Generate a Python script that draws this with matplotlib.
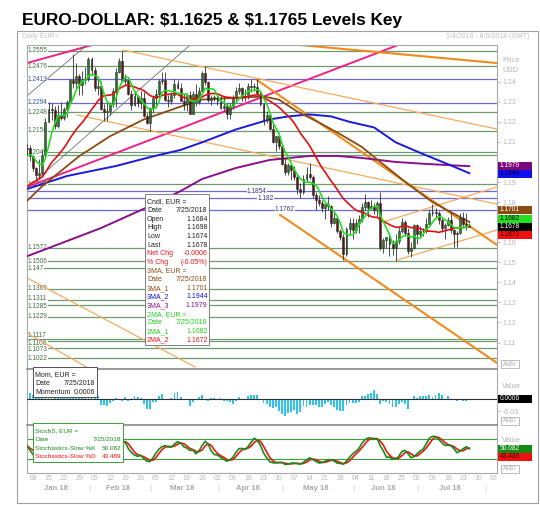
import numpy as np
import pandas as pd
import matplotlib
matplotlib.use("Agg")
import matplotlib.pyplot as plt
from matplotlib.patches import Rectangle
from matplotlib.transforms import blended_transform_factory

plt.rcParams['font.family'] = ['Liberation Sans', 'DejaVu Sans']

W, H = 540, 505

# Daily EUR= candles, one entry per trading day, 4 Jan 2018 - 25 Jul 2018
opens = [1.2065, 1.2068, 1.2030, 1.1968, 1.1937, 1.1947, 1.2035, 1.2201, 1.2265, 1.2260,
         1.2180, 1.2236, 1.2221, 1.2262, 1.2300, 1.2408, 1.2395, 1.2426, 1.2383, 1.2407,
         1.2414, 1.2512, 1.2458, 1.2368, 1.2378, 1.2264, 1.2251, 1.2253, 1.2290, 1.2353,
         1.2450, 1.2505, 1.2405, 1.2408, 1.2338, 1.2285, 1.2330, 1.2294, 1.2318, 1.2230,
         1.2193, 1.2267, 1.2318, 1.2338, 1.2406, 1.2410, 1.2310, 1.2306, 1.2335, 1.2390,
         1.2370, 1.2305, 1.2290, 1.2335, 1.2240, 1.2340, 1.2300, 1.2355, 1.2445, 1.2400,
         1.2310, 1.2320, 1.2323, 1.2302, 1.2270, 1.2280, 1.2240, 1.2280, 1.2320, 1.2355,
         1.2370, 1.2325, 1.2330, 1.2380, 1.2375, 1.2375, 1.2345, 1.2290, 1.2210, 1.2235,
         1.2165, 1.2100, 1.2130, 1.2080, 1.1990, 1.1950, 1.1985, 1.1960, 1.1925, 1.1865,
         1.1850, 1.1915, 1.1940, 1.1925, 1.1835, 1.1810, 1.1795, 1.1770, 1.1790, 1.1780,
         1.1695, 1.1720, 1.1655, 1.1625, 1.1540, 1.1665, 1.1695, 1.1660, 1.1695, 1.1715,
         1.1775, 1.1800, 1.1770, 1.1780, 1.1760, 1.1795, 1.1570, 1.1610, 1.1625, 1.1590,
         1.1570, 1.1605, 1.1655, 1.1700, 1.1645, 1.1555, 1.1570, 1.1685, 1.1640, 1.1655,
         1.1655, 1.1690, 1.1745, 1.1750, 1.1745, 1.1710, 1.1670, 1.1685, 1.1710, 1.1660,
         1.1640, 1.1645, 1.1720, 1.1690, 1.1684]
highs = [1.2089, 1.2083, 1.2036, 1.1977, 1.2014, 1.2058, 1.2218, 1.2297, 1.2296, 1.2278,
         1.2286, 1.2297, 1.2272, 1.2309, 1.2413, 1.2537, 1.2494, 1.2440, 1.2452, 1.2472,
         1.2524, 1.2523, 1.2475, 1.2420, 1.2406, 1.2288, 1.2296, 1.2300, 1.2371, 1.2468,
         1.2516, 1.2555, 1.2439, 1.2412, 1.2358, 1.2353, 1.2336, 1.2356, 1.2347, 1.2242,
         1.2273, 1.2335, 1.2365, 1.2412, 1.2446, 1.2447, 1.2334, 1.2348, 1.2413, 1.2408,
         1.2394, 1.2337, 1.2344, 1.2355, 1.2355, 1.2388, 1.2375, 1.2455, 1.2476, 1.2405,
         1.2336, 1.2334, 1.2345, 1.2334, 1.2325, 1.2292, 1.2294, 1.2336, 1.2375, 1.2396,
         1.2374, 1.2362, 1.2395, 1.2414, 1.2396, 1.2413, 1.2352, 1.2295, 1.2253, 1.2246,
         1.2190, 1.2130, 1.2140, 1.2095, 1.2020, 1.1995, 1.1995, 1.1978, 1.1938, 1.1895,
         1.1935, 1.1974, 1.1996, 1.1933, 1.1848, 1.1835, 1.1810, 1.1790, 1.1832, 1.1785,
         1.1750, 1.1726, 1.1665, 1.1640, 1.1676, 1.1723, 1.1720, 1.1718, 1.1736, 1.1796,
         1.1840, 1.1805, 1.1810, 1.1796, 1.1805, 1.1852, 1.1623, 1.1625, 1.1645, 1.1610,
         1.1640, 1.1675, 1.1720, 1.1712, 1.1670, 1.1600, 1.1690, 1.1690, 1.1680, 1.1670,
         1.1720, 1.1764, 1.1791, 1.1770, 1.1757, 1.1720, 1.1695, 1.1725, 1.1744, 1.1666,
         1.1658, 1.1746, 1.1750, 1.1746, 1.1698]
lows = [1.2037, 1.2004, 1.1955, 1.1916, 1.1915, 1.1935, 1.2027, 1.2197, 1.2209, 1.2165,
        1.2171, 1.2207, 1.2210, 1.2225, 1.2296, 1.2368, 1.2361, 1.2335, 1.2336, 1.2388,
        1.2405, 1.2435, 1.2355, 1.2335, 1.2260, 1.2206, 1.2206, 1.2235, 1.2275, 1.2273,
        1.2442, 1.2404, 1.2385, 1.2334, 1.2260, 1.2277, 1.2272, 1.2264, 1.2224, 1.2188,
        1.2155, 1.2246, 1.2273, 1.2322, 1.2388, 1.2306, 1.2273, 1.2287, 1.2319, 1.2363,
        1.2302, 1.2258, 1.2256, 1.2239, 1.2239, 1.2278, 1.2290, 1.2353, 1.2384, 1.2300,
        1.2285, 1.2303, 1.2285, 1.2263, 1.2254, 1.2216, 1.2215, 1.2263, 1.2300, 1.2340,
        1.2303, 1.2306, 1.2315, 1.2348, 1.2355, 1.2335, 1.2277, 1.2183, 1.2196, 1.2160,
        1.2095, 1.2055, 1.2067, 1.1985, 1.1937, 1.1937, 1.1910, 1.1910, 1.1838, 1.1822,
        1.1840, 1.1900, 1.1917, 1.1822, 1.1763, 1.1780, 1.1750, 1.1717, 1.1761, 1.1676,
        1.1690, 1.1645, 1.1610, 1.1510, 1.1530, 1.1640, 1.1618, 1.1645, 1.1645, 1.1702,
        1.1760, 1.1725, 1.1765, 1.1740, 1.1725, 1.1560, 1.1545, 1.1570, 1.1532, 1.1535,
        1.1508, 1.1592, 1.1645, 1.1630, 1.1540, 1.1527, 1.1565, 1.1590, 1.1620, 1.1630,
        1.1645, 1.1690, 1.1730, 1.1720, 1.1690, 1.1650, 1.1615, 1.1680, 1.1646, 1.1575,
        1.1575, 1.1640, 1.1683, 1.1660, 1.1674]
closes = [1.2068, 1.2030, 1.1968, 1.1937, 1.1947, 1.2035, 1.2201, 1.2265, 1.2260, 1.2180,
          1.2236, 1.2221, 1.2262, 1.2300, 1.2408, 1.2395, 1.2426, 1.2383, 1.2407, 1.2414,
          1.2512, 1.2458, 1.2368, 1.2378, 1.2264, 1.2251, 1.2253, 1.2290, 1.2353, 1.2450,
          1.2505, 1.2405, 1.2408, 1.2338, 1.2285, 1.2330, 1.2294, 1.2318, 1.2230, 1.2193,
          1.2267, 1.2318, 1.2338, 1.2406, 1.2410, 1.2310, 1.2306, 1.2335, 1.2390, 1.2370,
          1.2305, 1.2290, 1.2335, 1.2240, 1.2340, 1.2300, 1.2355, 1.2445, 1.2400, 1.2310,
          1.2320, 1.2323, 1.2302, 1.2270, 1.2280, 1.2240, 1.2280, 1.2320, 1.2355, 1.2370,
          1.2325, 1.2330, 1.2380, 1.2375, 1.2375, 1.2345, 1.2290, 1.2210, 1.2235, 1.2165,
          1.2100, 1.2130, 1.2080, 1.1990, 1.1950, 1.1985, 1.1960, 1.1925, 1.1865, 1.1850,
          1.1915, 1.1940, 1.1925, 1.1835, 1.1810, 1.1795, 1.1770, 1.1790, 1.1780, 1.1695,
          1.1720, 1.1655, 1.1625, 1.1540, 1.1665, 1.1695, 1.1660, 1.1695, 1.1715, 1.1775,
          1.1800, 1.1770, 1.1780, 1.1760, 1.1795, 1.1570, 1.1610, 1.1625, 1.1590, 1.1570,
          1.1605, 1.1655, 1.1700, 1.1645, 1.1555, 1.1570, 1.1685, 1.1640, 1.1655, 1.1655,
          1.1690, 1.1745, 1.1750, 1.1745, 1.1710, 1.1670, 1.1685, 1.1710, 1.1660, 1.1640,
          1.1645, 1.1720, 1.1690, 1.1684, 1.1678]
# closes before the chart starts (5 Dec 2017 - 3 Jan 2018), for the indicators
prior_closes = [1.1825, 1.1795, 1.1770, 1.1775, 1.1810, 1.1745, 1.1825, 1.1775, 1.1750, 1.1780,
                1.1840, 1.1875, 1.1870, 1.1860, 1.1860, 1.1890, 1.1945, 1.2005, 1.2010, 1.2060,
                1.2015]

# slow moving averages as (day index, value) knots
ma1_days = [0, 5, 17, 27, 38, 50, 57, 68, 77, 82, 88, 95, 102, 109, 115, 124, 132, 138, 144]
ma1_vals = [1.1806, 1.1880, 1.2029, 1.2128, 1.2212, 1.2276, 1.2311, 1.2320, 1.2326, 1.2311,
            1.2251, 1.2197, 1.2138, 1.2075, 1.2000, 1.1890, 1.1800, 1.1750, 1.1701]
ma2_days = [0, 13, 29, 40, 50, 57, 68, 79, 85, 92, 99, 105, 113, 120, 129, 137, 144]
ma2_vals = [1.1865, 1.1930, 1.1980, 1.2024, 1.2060, 1.2098, 1.2162, 1.2212, 1.2227, 1.2237,
            1.2227, 1.2200, 1.2172, 1.2098, 1.2039, 1.1989, 1.1944]
ma3_days = [0, 24, 40, 50, 57, 68, 79, 92, 101, 109, 120, 130, 144]
ma3_vals = [1.1530, 1.1670, 1.1780, 1.1855, 1.1915, 1.1970, 1.2010, 1.2030, 1.2030, 1.2020,
            1.2000, 1.1990, 1.1979]

# horizontal levels
green_levels = [1.2555, 1.2476, 1.2248, 1.2156, 1.2049, 1.2034, 1.1889, 1.1572, 1.1506, 1.147,
                1.1369, 1.1311, 1.1285, 1.1229, 1.1117, 1.1106, 1.1073, 1.1022]
blue_levels = [1.2413, 1.2294, 1.1854, 1.182, 1.1762]
left_labels = ['1.2555', '1.2476', '1.2413', '1.2294', '1.2248', '1.2156', '1.2049', '1.1889',
               '1.1572', '1.1506', '1.147', '1.1369', '1.1311', '1.1285', '1.1229', '1.1117',
               '1.1106', '1.1073', '1.1022']
mid_labels = ['1.1854', '1.182', '1.1762']

# trend lines: ((start day, end day), (start price, end price))
pink_lines = [((0, 120.8), (1.1875, 1.2583)), ((0, 21.2), (1.2493, 1.2583))]
gray_lines = [((0, 53.1), (1.1870, 1.2583)), ((0, 19.5), (1.2329, 1.2583))]
orange_thin = [((31.25, 153), (1.2558, 1.2164)), ((16.3, 153), (1.2234, 1.1790)),
               ((0, 54.7), (1.1422, 1.0978)), ((0, 20.5), (1.1147, 1.0968)),
               ((120.4, 153), (1.1511, 1.1661)), ((115.9, 153), (1.1701, 1.1875))]
orange_thick = [((88.9, 153), (1.2583, 1.2493)), ((74.9, 153), (1.2408, 1.1586)),
                ((82.4, 153), (1.1736, 1.0998))]

dates = pd.bdate_range('2018-01-04', '2018-08-06')

# ---------------------------------------------------------------------------
o = np.array(opens); h = np.array(highs); l = np.array(lows); c = np.array(closes)
n = len(c)
x = np.arange(n)

all_close = pd.Series(prior_closes + closes)
k = len(prior_closes)
ma_fast = all_close.rolling(5).mean().values[k:]
ma_slow = all_close.rolling(20).mean().values[k:]
momentum = all_close.diff(10).values[k:]

hh = pd.Series(highs).rolling(14, min_periods=1).max()
ll = pd.Series(lows).rolling(14, min_periods=1).min()
fast_k = 100 * (pd.Series(closes) - ll) / (hh - ll)
slow_k = fast_k.rolling(3, min_periods=1).mean()
slow_d = slow_k.rolling(3, min_periods=1).mean()

PX = 2006.0   # pixels per price unit in the price panel


def fx(px):
    return px / W


def fy(py):
    return 1 - py / H


fig = plt.figure(figsize=(W / 100, H / 100), dpi=100)
fig.patch.set_facecolor('white')

ax = fig.add_axes([fx(27), fy(369), 470 / W, 324 / H])
axm = fig.add_axes([fx(27), fy(425), 470 / W, 56 / H])
axs = fig.add_axes([fx(27), fy(473), 470 / W, 48 / H])

for a in (ax, axm, axs):
    a.set_xlim(0, 153)
    a.set_xticks([])
    a.yaxis.tick_right()
    a.tick_params(axis='y', colors='#b4b4b4', labelsize=5, length=2, width=0.6, pad=2)
    for s in a.spines.values():
        s.set_color('#a8a8a8')
        s.set_linewidth(0.8)
axm.spines['top'].set_color('#808080')
axs.spines['top'].set_color('#808080')
axm.spines['top'].set_linewidth(1.1)
axs.spines['top'].set_linewidth(1.1)

# ---- price panel -----------------------------------------------------------
ax.set_ylim(1.0968, 1.2583)
ticks = [round(t, 2) for t in np.arange(1.11, 1.245, 0.01)]
ax.set_yticks(ticks)
# 1.20 and 1.17 sit under the value boxes, so their labels stay empty
ax.set_yticklabels(['' if t in (1.20, 1.17) else '%.2f' % t for t in ticks])

for lev in green_levels:
    ax.axhline(lev, color='#6f9a6f', lw=0.9, zorder=1)
for lev in blue_levels:
    ax.axhline(lev, color='#6a6ad0', lw=0.9, zorder=1)

# crowded labels are pushed a little apart (pixels, + = down)
nudge = {'1.1311': -1.5, '1.1285': 1.5, '1.1117': -4.0, '1.1106': 2.0, '1.1073': 1.5}
for lab in left_labels:
    col = '#3050a0' if float(lab) in blue_levels else '#3f6f3f'
    yl = float(lab) - nudge.get(lab, 0) / PX
    ax.text(0.3, yl, lab, fontsize=4.7, color=col, va='center', ha='left', zorder=1.5,
            bbox=dict(facecolor='white', edgecolor='none', pad=0.2))
for lab, xpos in zip(mid_labels, [71.6, 74.9, 80.7]):
    ax.text(xpos, float(lab), lab, fontsize=4.7, color='#30307a', va='center', ha='left',
            zorder=1.5, bbox=dict(facecolor='white', edgecolor='none', pad=0.2))

for (xs, ys) in pink_lines:
    ax.plot(xs, ys, color='#ee2288', lw=1.4, zorder=2)
for (xs, ys) in gray_lines:
    ax.plot(xs, ys, color='#707070', lw=0.6, zorder=2)
for (xs, ys) in orange_thin:
    ax.plot(xs, ys, color='#f6aa5e', lw=0.9, zorder=2)
for (xs, ys) in orange_thick:
    ax.plot(xs, ys, color='#f08a1c', lw=1.5, zorder=2)

ax.plot(ma3_days, ma3_vals, color='#8a108a', lw=1.4, zorder=3)
ax.plot(ma2_days, ma2_vals, color='#1a1ae0', lw=1.4, zorder=3)
ax.plot(ma1_days, ma1_vals, color='#8a4a12', lw=1.3, zorder=3)

up = c >= o
ax.vlines(x, l, h, color='#303030', lw=0.6, zorder=4)
body_lo = np.minimum(o, c)
body_h = np.maximum(np.abs(c - o), 0.00025)
ax.bar(x[up], body_h[up], bottom=body_lo[up], width=0.62, color='#2a7a2a',
       edgecolor='#303030', linewidth=0.4, zorder=4)
ax.bar(x[~up], body_h[~up], bottom=body_lo[~up], width=0.62, color='#5a1414',
       edgecolor='#303030', linewidth=0.4, zorder=4)

ax.plot(x, ma_slow, color='#e01010', lw=1.2, zorder=5)
ax.plot(x, ma_fast, color='#20e020', lw=1.2, zorder=5)

# ---- momentum panel --------------------------------------------------------
axm.set_ylim(-0.065, 0.075)
axm.bar(x, momentum, width=0.6, color='#2ec4f0', zorder=2)
axm.axhline(0, color='#303030', lw=0.8, zorder=3)
axm.set_yticks([-0.03])
axm.set_yticklabels(['-0.03'])

# ---- stochastics panel -----------------------------------------------------
axs.set_ylim(-22, 122)
axs.axhline(80, color='#3aa03a', lw=0.8)
axs.axhline(20, color='#3aa03a', lw=0.8)
axs.plot(x, slow_d, color='#e81515', lw=1.2, zorder=3)
axs.plot(x, slow_k, color='#1a8a1a', lw=1.2, zorder=3)
axs.set_yticks([])

# ---- date axis -------------------------------------------------------------
tr = blended_transform_factory(axs.transData, fig.transFigure)
for i, d in enumerate(dates):
    if d.weekday() == 0:
        axs.text(i, fy(479), d.strftime('%d'), transform=tr, fontsize=5, color='#b8b8b8',
                 ha='center', va='center', clip_on=False)
months = pd.Series(np.arange(len(dates)), index=dates)
for m, grp in months.groupby(dates.to_period('M')):
    first = grp.iloc[0]
    if first > 0:
        axs.text(first + 0.2, fy(488), '|', transform=tr, fontsize=6, color='#c0c0c0',
                 ha='center', va='center', clip_on=False)
    if m.month <= 7:
        axs.text(grp.mean(), fy(488), m.strftime('%b %y'), transform=tr, fontsize=5.5,
                 color='#a8a8a8', fontweight='bold', ha='center', va='center', clip_on=False)

# ---- frame and headings ----------------------------------------------------
fig.add_artist(Rectangle((fx(17), fy(503)), (538 - 17) / W, (503 - 31) / H,
                         transform=fig.transFigure, fill=False, edgecolor='#a0a0a0', lw=0.8))
fig.text(fx(22), fy(25.5), 'EURO-DOLLAR: \\$1.1625 & \\$1.1765 Levels Key', fontsize=12.4,
         fontweight='bold', va='baseline', ha='left', color='black')
fig.text(fx(22), fy(37), 'Daily EUR=', fontsize=5, color='#c0c0c0', va='center')
fig.text(fx(530), fy(37), '1/4/2018 - 8/6/2018 (GMT)', fontsize=5, color='#c0c0c0',
         va='center', ha='right')
fig.text(fx(502), fy(61), 'Price', fontsize=5.5, color='#b4b4b4', va='center')
fig.text(fx(502), fy(71), 'USD', fontsize=5.5, color='#b4b4b4', va='center')
fig.text(fx(502), fy(386), 'Value', fontsize=5.5, color='#b4b4b4', va='center')
fig.text(fx(502), fy(441), 'Value', fontsize=5.5, color='#b4b4b4', va='center')


def value_box(y, s, bg, fg):
    fig.add_artist(Rectangle((fx(498), fy(y + 4)), 34 / W, 8 / H, transform=fig.transFigure,
                             facecolor=bg, edgecolor='none', zorder=4))
    fig.text(fx(499.5), fy(y), s, fontsize=4.8, color=fg, va='center', ha='left', zorder=5)


def auto_box(y):
    fig.add_artist(Rectangle((fx(501), fy(y + 4)), 18 / W, 8 / H, transform=fig.transFigure,
                             facecolor='white', edgecolor='#b0b0b0', lw=0.6, zorder=4))
    fig.text(fx(510), fy(y), 'Auto', fontsize=4.8, color='#b0b0b0', va='center', ha='center',
             zorder=5)


value_box(165.5, '1.1979', '#7a0a7a', 'white')
value_box(173.5, '1.1944', '#1010f0', '#000040')
value_box(210, '1.1701', '#8a4a12', 'white')
value_box(218.5, '1.1682', '#20e020', 'black')
value_box(226.7, '1.1678', '#000000', 'white')
value_box(235, '1.1672', '#f01010', '#400000')
value_box(399, '0.0006', '#000000', 'white')
value_box(448.5, '50.082', '#128a12', 'white')
value_box(457, '43.489', '#f01010', '#400000')
auto_box(364)
auto_box(421)
auto_box(469)


def info_box(x0, y0, x1, rows, edge, size=5):
    fig.add_artist(Rectangle((fx(x0), fy(y0 + len(rows) * 8.63 + 2)), (x1 - x0) / W,
                             (len(rows) * 8.63 + 4) / H, transform=fig.transFigure,
                             facecolor='white', edgecolor=edge, lw=0.7, zorder=4))
    for j, (lab, val, col) in enumerate(rows):
        yy = y0 + 6 + j * 8.63
        fig.text(fx(x0 + 2), fy(yy), lab, fontsize=size, color=col, va='center', zorder=5)
        if val:
            fig.text(fx(x1 - 1.5), fy(yy), val, fontsize=size, color=col, va='center',
                     ha='right', zorder=5)


info_box(145, 196, 209, [
    ('Cndl, EUR =', '', '#202020'),
    ('Date', '7/25/2018', '#202020'),
    ('Open', '1.1684', '#202020'),
    ('High', '1.1698', '#202020'),
    ('Low', '1.1674', '#202020'),
    ('Last', '1.1678', '#202020'),
    ('Net Chg', '-0.0006', '#f01010'),
    ('% Chg', '(-0.05%)', '#f01010'),
    ('3MA, EUR =', '', '#8a4a12'),
    ('Date', '7/25/2018', '#8a4a12'),
    ('3MA_1', '1.1701', '#8a4a12'),
    ('3MA_2', '1.1944', '#1010e0'),
    ('3MA_3', '1.1979', '#8a108a'),
    ('2MA, EUR =', '', '#20d020'),
    ('Date', '7/25/2018', '#20d020'),
    ('2MA_1', '1.1682', '#20d020'),
    ('2MA_2', '1.1672', '#f01010'),
], '#808080')

info_box(33, 369, 97, [
    ('Mom, EUR =', '', '#202020'),
    ('Date', '7/25/2018', '#202020'),
    ('Momentum', '0.0006', '#202020'),
], '#505050')

info_box(33, 425, 123, [
    ('StochS, EUR =', '', '#1a8a1a'),
    ('Date', '7/25/2018', '#1a8a1a'),
    ('Stochastics-Slow %K', '50.082', '#1a8a1a'),
    ('Stochastics-Slow %D', '43.489', '#f01010'),
], '#3aa03a', size=4.6)

fig.savefig('out.png', dpi=100)
